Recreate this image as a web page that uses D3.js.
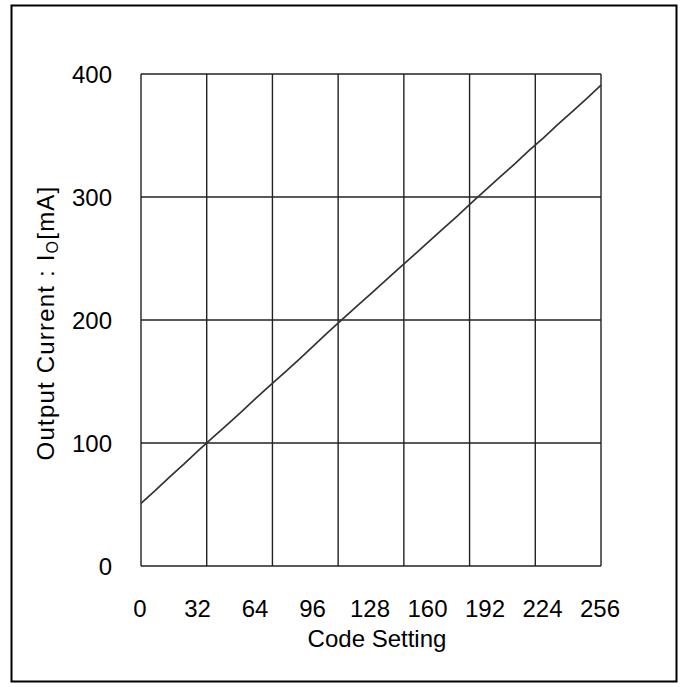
<!DOCTYPE html>
<html>
<head>
<meta charset="utf-8">
<script src="https://cdn.jsdelivr.net/npm/d3@7"></script>
<style>
  html, body { margin: 0; padding: 0; background: #fff; }
  svg { display: block; }
  text { font-family: "Liberation Sans", Arial, Helvetica, sans-serif; fill: #000; }
</style>
</head>
<body>
<svg id="chart" width="685" height="687"></svg>
<script>
// ---- data ----
const codeSetting = [0, 8, 16, 24, 32, 40, 48, 56, 64, 72, 80, 88, 96, 104, 112, 120, 128,
                     136, 144, 152, 160, 168, 176, 184, 192, 200, 208, 216, 224, 232, 240, 248, 256];
const outputCurrent = [51, 61.5, 72.5, 83, 94, 104.5, 115, 125.5, 136.5, 147, 157.5, 168, 179, 190, 200.5, 211, 221.5,
                       232, 242.5, 253, 263.5, 274, 284.5, 295.5, 306, 316.5, 327, 338, 348, 359, 369.5, 380, 391];
const xTickLabels = [0, 32, 64, 96, 128, 160, 192, 224, 256];
const yTickLabels = [0, 100, 200, 300, 400];
const xGridDivisions = 7;
const xTitle = "Code Setting";

// ---- layout ----
const svg = d3.select("#chart");
const plot = { left: 141, top: 74, right: 601, bottom: 566 };

const x = d3.scaleLinear().domain([0, 256]).range([plot.left, plot.right]);
const y = d3.scaleLinear().domain([0, 400]).range([plot.bottom, plot.top]);
const xGrid = d3.scaleLinear().domain([0, xGridDivisions]).range([plot.left, plot.right]);

// outer frame
svg.append("rect")
  .attr("x", 11.5).attr("y", 5.5).attr("width", 665).attr("height", 676)
  .attr("fill", "none").attr("stroke", "#000").attr("stroke-width", 2);

// grid
const g = svg.append("g");
g.selectAll("line.v").data(d3.range(0, xGridDivisions + 1)).join("line")
  .attr("x1", d => xGrid(d)).attr("x2", d => xGrid(d))
  .attr("y1", plot.top).attr("y2", plot.bottom)
  .attr("stroke", "#222").attr("stroke-width", 1.4);
g.selectAll("line.h").data(yTickLabels).join("line")
  .attr("x1", plot.left).attr("x2", plot.right)
  .attr("y1", d => y(d)).attr("y2", d => y(d))
  .attr("stroke", "#222").attr("stroke-width", 1.4);

// x tick labels
svg.append("g").selectAll("text").data(xTickLabels).join("text")
  .attr("x", d => x(d) - 1).attr("y", 617)
  .attr("text-anchor", "middle").attr("font-size", 24)
  .text(d => d);

// y tick labels
svg.append("g").selectAll("text").data(yTickLabels).join("text")
  .attr("x", 112).attr("y", d => y(d) + 9)
  .attr("text-anchor", "end").attr("font-size", 24)
  .text(d => d);

// x title
svg.append("text")
  .attr("x", 377).attr("y", 647)
  .attr("text-anchor", "middle").attr("font-size", 24)
  .text(xTitle);

// y title (with subscript O)
const yt = svg.append("text")
  .attr("transform", "translate(54,323) rotate(-90)")
  .attr("text-anchor", "middle").attr("font-size", 24)
  .attr("letter-spacing", 1.2);
yt.append("tspan").text("Output Current : I");
yt.append("tspan").attr("font-size", 16).attr("dy", 4).text("O");
yt.append("tspan").attr("dy", -4).text("[mA]");

// data line
const line = d3.line().x((d, i) => x(codeSetting[i])).y(d => y(d));
svg.append("path")
  .datum(outputCurrent)
  .attr("d", line)
  .attr("fill", "none").attr("stroke", "#333").attr("stroke-width", 1.7);
</script>
</body>
</html>
